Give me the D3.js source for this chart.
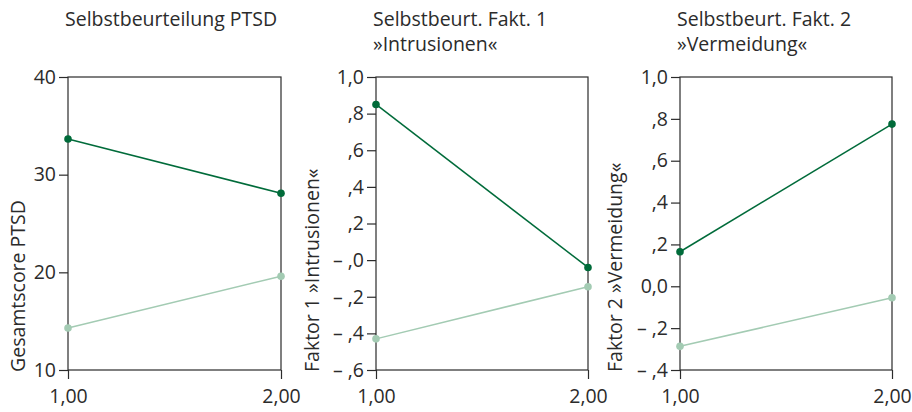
<!DOCTYPE html>
<html>
<head>
<meta charset="utf-8">
<script src="https://cdn.jsdelivr.net/npm/d3@7"></script>
<style>
  body { margin: 0; background: #fff; }
  svg { display: block; font-family: 'Open Sans', sans-serif; }
</style>
</head>
<body>
<div class="chart-container"></div>
<script>
// measurement points (x = 1,00 / 2,00)
const xValues = [1, 2]
const xTickLabels = ['1,00', '2,00']

// panel 1: Selbstbeurteilung PTSD
const ptsdHigh = [33.65, 28.1]
const ptsdLow = [14.3, 19.6]
const ptsdTicks = [10, 20, 30, 40]
const ptsdTickLabels = ['10', '20', '30', '40']

// panel 2: Faktor 1 »Intrusionen«
const fakt1High = [0.85, -0.04]
const fakt1Low = [-0.43, -0.145]
const fakt1Ticks = [1.0, 0.8, 0.6, 0.4, 0.2, 0, -0.2, -0.4, -0.6]
const fakt1TickLabels = ['1,0', ',8', ',6', ',4', ',2', '– ,0', '– ,2', '– ,4', '– ,6']

// panel 3: Faktor 2 »Vermeidung«
const fakt2High = [0.165, 0.775]
const fakt2Low = [-0.287, -0.055]
const fakt2Ticks = [1.0, 0.8, 0.6, 0.4, 0.2, 0, -0.2, -0.4]
const fakt2TickLabels = ['1,0', ',8', ',6', ',4', ',2', '0,0', '– ,2', '– ,4']

const panels = [
  {
    title: ['Selbstbeurteilung PTSD'],
    yLabel: 'Gesamtscore PTSD',
    left: 68, right: 281, labelX: 25,
    domain: [10, 40], ticks: ptsdTicks, tickLabels: ptsdTickLabels,
    high: ptsdHigh, low: ptsdLow,
  },
  {
    title: ['Selbstbeurt. Fakt. 1', '»Intrusionen«'],
    yLabel: 'Faktor 1 »Intrusionen«',
    left: 376, right: 588, labelX: 319,
    domain: [-0.6, 1.0], ticks: fakt1Ticks, tickLabels: fakt1TickLabels,
    high: fakt1High, low: fakt1Low,
  },
  {
    title: ['Selbstbeurt. Fakt. 2', '»Vermeidung«'],
    yLabel: 'Faktor 2 »Vermeidung«',
    left: 680, right: 892, labelX: 622,
    domain: [-0.4, 1.0], ticks: fakt2Ticks, tickLabels: fakt2TickLabels,
    high: fakt2High, low: fakt2Low,
  },
]

const width = 912
const height = 412
const plotTop = 77
const plotBottom = 370
const tickSize = 9
const darkGreen = '#006b3a'
const lightGreen = '#a3cbb3'
const axisColor = '#2b2b2b'
const textColor = '#2b2b2b'
const fontSize = 19.5

const svg = d3
  .select('.chart-container')
  .append('svg')
  .attr('width', width)
  .attr('height', height)

panels.forEach((p) => {
  const g = svg.append('g')

  const x = d3.scaleLinear().domain([1, 2]).range([p.left, p.right])
  const y = d3.scaleLinear().domain(p.domain).range([plotBottom, plotTop])

  // title (one or two lines)
  p.title.forEach((line, i) => {
    g.append('text')
      .attr('x', p.left - 3)
      .attr('y', 26 + i * 25)
      .attr('fill', textColor)
      .attr('font-size', fontSize)
      .text(line)
  })

  // frame
  g.append('rect')
    .attr('x', p.left)
    .attr('y', plotTop)
    .attr('width', p.right - p.left)
    .attr('height', plotBottom - plotTop)
    .attr('fill', 'none')
    .attr('stroke', axisColor)
    .attr('stroke-width', 1.2)

  // y axis
  const yAxis = d3
    .axisLeft(y)
    .tickValues(p.ticks)
    .tickSize(tickSize)
    .tickPadding(3)
    .tickFormat((d, i) => p.tickLabels[i])
  const ya = g.append('g').attr('transform', `translate(${p.left},0)`).call(yAxis)

  // x axis
  const xAxis = d3
    .axisBottom(x)
    .tickValues(xValues)
    .tickSize(tickSize)
    .tickPadding(10)
    .tickFormat((d, i) => xTickLabels[i])
  const xa = g.append('g').attr('transform', `translate(0,${plotBottom})`).call(xAxis)

  ;[ya, xa].forEach((a) => {
    a.select('.domain').remove()
    a.selectAll('line').attr('stroke', axisColor).attr('stroke-width', 1.2)
    a.selectAll('text')
      .attr('fill', textColor)
      .attr('font-size', fontSize)
      .attr('font-family', "'Open Sans', sans-serif")
  })

  // rotated y label, starting at the bottom of the axis
  g.append('text')
    .attr('transform', `translate(${p.labelX},${plotBottom + 2}) rotate(-90)`)
    .attr('text-anchor', 'start')
    .attr('fill', textColor)
    .attr('font-size', fontSize)
    .text(p.yLabel)

  // series lines + dots
  const series = [
    { values: p.low, color: lightGreen },
    { values: p.high, color: darkGreen },
  ]
  const line = d3
    .line()
    .x((d, i) => x(xValues[i]))
    .y((d) => y(d))

  series.forEach((s) => {
    g.append('path')
      .datum(s.values)
      .attr('d', line)
      .attr('fill', 'none')
      .attr('stroke', s.color)
      .attr('stroke-width', 1.5)

    g.selectAll(null)
      .data(s.values)
      .enter()
      .append('circle')
      .attr('cx', (d, i) => x(xValues[i]))
      .attr('cy', (d) => y(d))
      .attr('r', 3.8)
      .attr('fill', s.color)
  })
})
</script>
</body>
</html>
